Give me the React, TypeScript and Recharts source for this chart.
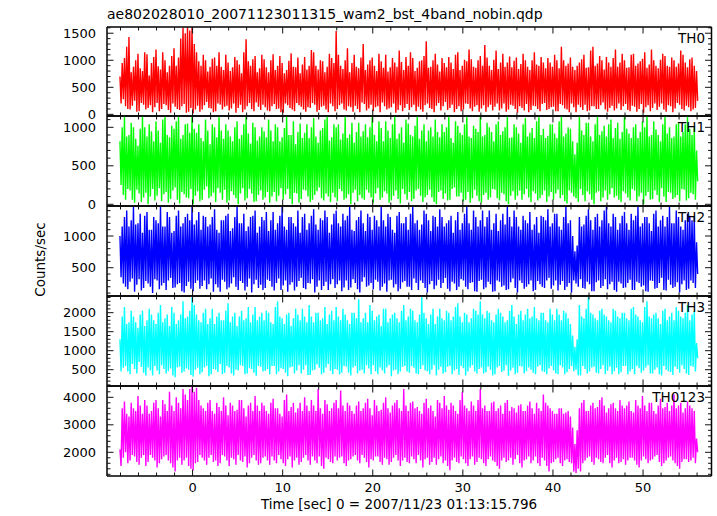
import React from 'react';
import { LineChart, Line, XAxis, YAxis } from 'recharts';

// ---- time bins (seconds since 2007/11/23 01:13:15.796), one upper and one lower excursion per bin ----
const T_START = -8;
const T_BIN = 0.25;
const X_DOMAIN: [number, number] = [-9.5, 57.6];
const X_MAJOR = 10;
const X_MINOR = 2;

// ---- TH0 ----
const th0Hi = [
  700,950,1040,1250,1430,780,880,1000,1120,850,800,1150,1110,720,950,1060,1200,890,830,1150,1000,780,900,1080,1220,900,1050,1400,1600,1500,1630,1550,
  1620,1300,1150,980,900,1100,1000,790,880,1030,1050,900,1150,880,820,1100,960,800,870,1060,1000,920,760,1150,1390,980,900,1020,1080,780,850,1100,
  1020,870,780,1000,1110,820,900,1080,950,760,820,990,1130,880,870,1050,760,920,1060,830,900,1190,1150,900,830,1000,980,780,880,1120,1040,950,
  1540,1100,900,840,1000,1220,780,950,1100,880,850,1050,1300,820,920,1000,1050,900,800,1120,980,860,1100,790,870,1040,960,880,1180,970,820,1060,
  900,1150,1040,800,860,980,1000,1080,1350,860,880,1000,1120,920,790,1040,950,870,1060,960,840,1100,1150,820,900,1010,980,1200,1020,880,860,1000,
  1080,900,1280,1050,900,820,1010,1180,840,960,1120,880,960,1070,870,990,1050,840,930,1120,1000,880,820,1000,1150,920,900,1060,960,850,1040,960,
  880,1100,1000,850,1250,1000,900,940,1050,880,820,900,960,1020,1100,860,870,1180,1250,900,940,1080,1000,830,1060,960,880,1040,1200,880,960,1120,
  1000,860,870,1100,1120,900,940,980,1030,1150,860,920,1200,1000,900,850,1010,1120,1080,900,880,1050,1000,880,940,1180,1100,960,870,1020,1050,900,
  800,
];
const th0Lo = [
  200,280,150,100,90,160,250,50,60,210,180,90,120,170,40,130,210,60,100,190,170,80,30,200,140,100,80,150,190,30,50,120,
  20,90,160,50,90,170,230,120,110,40,60,200,180,90,140,160,70,110,200,30,120,180,40,90,150,210,100,60,220,140,80,180,
  130,70,60,150,190,100,110,40,30,200,170,120,90,60,210,170,140,90,50,130,120,210,180,50,80,140,160,90,40,200,150,60,
  100,170,200,90,70,150,130,50,160,100,40,220,190,70,110,180,60,130,150,40,220,150,90,110,130,200,30,80,170,60,120,190,
  80,130,180,60,140,90,50,170,200,120,100,40,160,210,70,150,230,80,120,180,40,100,150,60,90,200,190,110,60,140,170,50,
  110,170,50,130,180,70,140,200,70,110,200,50,90,180,160,100,30,150,120,70,190,40,80,160,150,100,60,190,210,80,100,130,
  140,60,60,190,170,110,90,40,200,130,40,180,130,80,180,60,70,150,150,100,100,170,220,90,50,120,160,70,110,200,80,150,
  190,80,60,160,140,50,100,190,30,130,170,60,120,200,80,140,200,90,50,170,150,40,110,210,180,100,70,160,130,60,90,120,
  250,
];

// ---- TH1 ----
const th1Hi = [
  820,1000,1146,880,900,1060,1000,850,760,980,1146,1000,880,1040,950,820,1080,960,800,1100,1146,900,870,1020,980,1080,1146,850,900,1040,1050,930,
  1146,980,930,1040,860,820,1100,960,780,1040,1000,870,1146,960,850,1040,960,880,820,1000,1080,850,900,1040,1146,920,790,1060,1000,830,880,1000,
  950,870,1100,960,820,1040,1000,820,870,990,1146,900,900,1080,780,940,1050,860,930,1040,860,1000,1120,880,800,960,990,1100,1146,830,870,1040,
  1000,1040,840,920,1146,860,910,1060,800,940,1060,880,950,1040,870,1000,1146,900,820,1080,990,820,1080,960,860,1040,1146,850,920,1000,800,1100,
  1050,900,880,1020,1146,850,960,1040,820,960,1000,880,1100,940,870,1040,940,1000,1146,860,800,1080,1020,930,900,1040,1146,880,860,1020,980,940,
  1146,880,900,1060,1000,940,820,1040,1080,900,950,1000,1146,860,870,1040,1000,920,800,1040,1120,880,930,990,860,1080,1146,900,980,860,890,1040,
  1040,920,860,1080,1146,880,920,1000,980,820,650,800,1146,960,900,1060,1060,880,820,1040,1146,900,950,1020,880,1040,1100,860,990,1060,850,940,
  1146,980,920,860,1000,1040,860,940,1080,1000,1146,880,900,1080,970,900,820,1040,1146,920,1000,860,880,1040,1060,880,940,1040,1146,980,900,1000,
  700,
];
const th1Lo = [
  250,120,60,200,180,60,20,190,140,30,90,150,0,100,200,50,110,210,40,130,160,20,70,180,220,60,10,160,130,90,80,200,
  0,110,170,40,60,190,230,80,100,150,30,210,150,60,190,20,50,170,120,80,0,140,210,50,80,200,140,30,40,120,180,60,
  90,160,20,100,160,40,110,210,60,130,200,70,0,150,140,20,70,190,180,100,30,60,120,170,220,80,50,140,100,30,150,90,
  40,200,170,60,80,130,0,150,190,40,120,80,60,190,150,90,20,140,210,60,90,170,140,20,50,110,180,70,10,200,130,60,
  160,40,70,180,200,110,30,90,120,190,90,30,0,160,180,70,140,50,60,200,220,100,100,150,40,60,160,20,80,190,110,40,
  20,120,150,60,90,200,190,80,50,150,130,40,0,110,170,60,110,180,60,130,200,90,30,170,140,50,80,120,180,30,100,160,
  60,140,190,80,120,40,10,180,150,100,80,30,200,120,40,170,130,60,0,150,170,40,90,180,60,130,210,90,110,60,30,170,
  140,90,50,200,180,40,100,150,0,110,160,60,70,180,120,30,210,100,30,160,150,70,90,120,40,200,190,50,80,150,130,60,
  300,
];

// ---- TH2 ----
const th2Hi = [
  1000,1150,1300,1400,1150,1250,1462,1180,1200,1350,1050,1320,1380,1100,1100,1300,1250,1200,1462,1150,1150,1380,1300,1050,1080,1320,1400,1150,1200,1300,1350,1250,
  1462,1180,1250,1380,1100,1320,1300,1150,1180,1300,1420,1100,1050,1250,1250,1320,1350,1080,1120,1300,1462,1200,1200,1350,1080,1150,1300,1320,1400,1050,1150,1300,
  1250,1380,1080,1250,1380,1100,1200,1320,1462,1150,1100,1300,1300,1200,1150,1400,1050,1300,1350,1100,1200,1320,1420,1180,1100,1280,1250,1400,1300,1050,1180,1350,
  1400,1200,1150,1350,1250,1320,1462,1100,1080,1250,1300,1400,1200,1080,1350,1300,1100,1320,1250,1150,1462,1250,1150,1350,1300,1100,1050,1320,1380,1200,1200,1300,
  1100,1350,1462,1200,1250,1100,1180,1400,1350,1250,1080,1320,1300,1150,1420,1300,1150,1200,1250,1320,1050,1250,1380,1100,1200,1350,1462,1200,1100,1400,1300,1150,
  1250,1400,1150,1300,1400,1100,1200,1350,1080,1250,1350,1180,1462,1300,1150,1400,1300,1150,1100,1320,1250,1200,1380,1100,1180,1300,1050,1320,1300,1250,1420,1150,
  1200,1350,1350,1150,1100,1300,1462,1200,1250,1000,760,850,1300,1150,1180,1320,1420,1250,1100,1300,1350,1150,1250,1400,1462,1200,1150,1350,1300,1100,1200,1320,
  1380,1200,1100,1350,1250,1320,1462,1150,1200,1300,1300,1200,1080,1350,1400,1150,1250,1320,1150,1300,1462,1200,1200,1400,1300,1150,1100,1250,1350,1320,1250,1300,
  900,
];
const th2Lo = [
  350,250,200,160,280,330,120,230,320,140,180,290,250,200,100,320,300,160,220,260,150,300,340,180,190,240,260,130,110,210,280,170,
  130,260,300,170,210,300,160,240,330,120,240,190,120,310,280,160,190,250,350,200,150,290,260,140,200,330,110,240,310,180,230,150,
  180,310,290,200,140,260,330,150,220,300,120,230,270,140,200,290,340,180,160,260,250,320,110,200,300,150,210,280,150,240,320,180,
  240,300,130,190,300,150,190,320,260,160,110,280,350,200,220,260,160,310,280,140,200,250,120,300,310,190,240,130,170,270,290,200,
  200,150,330,260,150,300,260,180,110,240,290,160,220,310,180,260,340,170,130,280,250,150,200,320,300,200,160,260,270,130,120,290,
  310,160,190,280,240,120,130,300,280,200,220,150,160,270,330,180,110,300,260,170,200,240,300,130,150,290,240,200,180,300,340,170,
  220,300,140,230,290,150,200,260,110,300,250,200,320,180,170,280,240,130,130,270,300,180,210,320,160,240,280,150,120,280,250,180,
  190,260,310,150,150,280,260,200,220,130,120,300,290,170,180,260,340,150,140,310,230,180,200,270,110,240,300,150,170,300,260,180,
  400,
];

// ---- TH3 ----
const th3Hi = [
  1300,1900,2150,1700,1750,2050,1900,1750,1600,1950,2050,1650,1800,2100,1950,1800,1700,2000,2200,1750,1850,1950,1650,2150,2000,1700,1800,1950,2300,1850,1900,2050,
  2421,2200,1950,1800,1750,2000,2100,1700,1850,2100,1700,1900,2000,1800,1800,2050,2250,1750,1900,2000,1650,1900,2050,1800,1850,2150,1750,1950,2150,1800,1900,2000,
  1800,2050,2000,1750,1700,2150,2300,1900,1850,1700,1950,2000,1650,1850,2100,1950,1800,2100,1900,1750,2200,1900,1750,2000,2000,1800,1850,2150,1700,1950,2050,1800,
  2150,1900,1800,2100,1950,1800,1700,2000,2000,1850,2350,1750,1850,2000,1750,2200,2050,1800,1900,1950,1650,2100,2100,1750,1850,1950,2000,1850,1750,2050,2200,1800,
  1900,2100,2050,1800,1750,1950,2421,2000,1850,1700,1950,2100,1700,1900,2100,1850,1800,2050,2000,1800,1900,2150,2250,1900,1750,2000,1950,1750,1850,2100,2050,1950,
  2300,1950,1850,2050,2000,1800,1750,1950,2100,2000,1900,1750,1800,2050,2200,1900,1700,1950,2050,1800,1950,2100,1850,1900,2150,1850,1800,2000,2000,1800,1750,2100,
  1950,1800,2100,1950,1800,2050,2000,1850,1700,1400,1100,1300,2200,1900,1850,2100,2421,2000,1950,1850,1800,2050,2100,1950,1900,1800,1750,2100,2050,1900,1850,2000,
  2000,1850,1800,2100,2150,1950,1900,1800,1750,2150,2300,1900,1850,1950,2000,1850,1700,2050,2100,1800,1900,2000,1800,2150,2050,1900,1850,2000,2200,1800,1950,2050,
  1200,
];
const th3Lo = [
  450,550,600,450,380,650,520,400,700,580,420,350,560,480,350,600,480,380,620,520,400,460,530,350,300,560,580,420,450,530,500,360,
  320,500,550,380,430,560,600,330,380,520,500,440,650,380,420,600,560,400,350,500,480,620,600,380,400,540,520,420,340,600,580,450,
  470,520,380,600,600,380,450,540,520,420,330,560,580,400,480,620,400,500,620,360,360,480,500,640,550,380,420,560,650,470,380,520,
  500,380,420,600,580,420,350,560,600,400,470,500,400,620,530,380,620,460,380,560,480,400,560,620,330,480,500,380,450,580,600,450,
  420,600,550,400,380,520,620,480,460,380,500,620,350,500,580,400,430,580,600,380,480,520,370,600,540,350,450,560,620,450,400,520,
  560,400,430,580,500,350,380,560,600,440,470,620,340,480,550,380,420,600,580,400,460,560,500,420,380,580,620,460,440,380,530,600,
  480,400,380,620,560,380,430,520,600,460,500,350,350,600,520,400,450,560,580,420,400,520,620,380,470,580,380,460,550,380,430,600,
  600,380,450,520,380,600,540,420,480,560,620,400,400,500,560,380,350,600,500,460,440,360,580,520,420,620,520,400,360,600,580,450,
  800,
];

// ---- TH0123 ----
const th0123Hi = [
  2100,3600,3850,3400,3300,3800,3600,3500,4050,3700,3400,3900,3700,3400,3500,3800,3900,3600,3300,3900,3750,3500,4200,3700,3500,4000,3800,3600,4300,4100,3900,4300,
  4411,4200,4350,3900,3700,3600,3500,3800,3900,3500,3400,3800,3650,3500,4000,3700,3350,3800,3700,3500,3550,3900,3900,3600,3300,3700,3800,3500,4050,3700,3500,3800,
  3700,3500,3400,3800,3950,3600,3600,3400,3300,3900,4100,3500,3650,3800,3450,3600,3800,3500,4000,3700,3500,3900,3700,3500,4300,3600,3400,3900,3750,3500,3600,3800,
  3900,3600,4250,3700,3500,3800,3700,3500,3400,3700,3850,3500,3600,3800,3950,3600,3350,3900,3700,3500,3550,3800,4000,3600,3450,3700,3800,3900,3600,3500,4300,3700,
  3500,3800,3850,3600,3650,3500,3400,3800,3950,3600,3700,3500,3300,3900,3800,3600,4050,3700,3550,3800,3700,3500,3400,3900,4200,3700,3600,3500,3850,3700,3500,3900,
  4300,3600,3700,3500,3500,3800,3850,3500,3600,3700,3400,3800,3900,3500,3650,3600,3450,3700,3750,3500,3500,3700,3850,3600,3400,3800,3600,3500,4100,3800,3700,3600,
  3500,3400,3400,3600,3600,3400,3450,3500,3300,2900,2300,2800,3600,3800,3900,3500,3500,3700,3800,3600,3650,3900,4000,3700,3450,3600,3750,3800,3600,3500,3900,3700,
  3600,3700,3850,3500,3450,3900,3700,3600,4050,3700,3500,3800,3800,3500,3400,3700,3950,3600,3650,3800,3500,3700,4100,3600,3700,3800,3450,3600,3850,3700,3600,3500,
  2500,
];
const th0123Lo = [
  1500,1800,2000,1600,1700,1900,1850,1650,1550,1800,1900,1500,1650,1900,1800,1700,1450,1600,1750,1850,1900,1700,1600,1450,1300,1700,1800,1550,1700,1800,1500,1400,
  1350,1600,1650,1900,1800,1700,1550,1800,1900,1650,1700,1500,1600,1900,1850,1700,1500,1800,1750,1550,1900,1700,1650,1850,1450,1600,1800,1900,1700,1550,1600,1800,
  1850,1700,1550,1850,1700,1600,1900,1750,1600,1500,1750,1850,1450,1700,1800,1550,1650,1800,1900,1700,1550,1850,1700,1600,1850,1500,1400,1800,1750,1650,1600,1850,
  1700,1800,1850,1600,1500,1700,1750,1850,1900,1700,1600,1900,1800,1650,1450,1750,1700,1850,1850,1650,1550,1800,1750,1550,1650,1800,1900,1700,1500,1700,1800,1650,
  1600,1850,1750,1600,1900,1700,1450,1750,1800,1550,1650,1800,1550,1750,1850,1600,1700,1500,1350,1700,1800,1650,1600,1850,1750,1600,1500,1750,1850,1550,1650,1800,
  1750,1600,1500,1750,1850,1700,1650,1500,1400,1700,1800,1650,1700,1800,1550,1750,1900,1600,1450,1700,1750,1850,1600,1700,1850,1600,1500,1800,1700,1500,1300,1600,
  1650,1750,1800,1600,1500,1700,1750,1650,1600,1300,1250,1400,1300,1600,1700,1800,1850,1650,1550,1800,1750,1650,1600,1800,1900,1600,1450,1700,1800,1600,1650,1750,
  1550,1700,1800,1800,1700,1550,1450,1700,1850,1750,1600,1700,1750,1850,1900,1650,1500,1600,1700,1800,1850,1700,1600,1500,1400,1650,1750,1750,1650,1700,1800,1600,
  2000,
];

const TITLE = 'ae802028010_20071123011315_wam2_bst_4band_nobin.qdp';
const X_TITLE = 'Time [sec] 0 = 2007/11/23 01:13:15.796';
const Y_TITLE = 'Counts/sec';

const FONT = '"DejaVu Sans", sans-serif';
const PLOT_LEFT = 107;
const CHART_W = 717;
const RIGHT_MARGIN = 4.5; // plus 1px right axis => plot right edge at 711.5
const PAD = 3;

type Panel = {
  label: string;
  hi: number[];
  lo: number[];
  color: string;
  domain: [number, number];
  major: number;
  minor: number;
  top: number;
  height: number;
};

const panels: Panel[] = [
  { label: 'TH0', hi: th0Hi, lo: th0Lo, color: '#ff0000', domain: [-30, 1615], major: 500, minor: 100, top: 27, height: 89 },
  { label: 'TH1', hi: th1Hi, lo: th1Lo, color: '#00ff00', domain: [-22, 1147], major: 500, minor: 100, top: 116, height: 90 },
  { label: 'TH2', hi: th2Hi, lo: th2Lo, color: '#0000ff', domain: [54, 1473], major: 500, minor: 100, top: 206, height: 90 },
  { label: 'TH3', hi: th3Hi, lo: th3Lo, color: '#00ffff', domain: [71, 2439], major: 500, minor: 100, top: 296, height: 90 },
  { label: 'TH0123', hi: th0123Hi, lo: th0123Lo, color: '#ff00ff', domain: [1138, 4411], major: 1000, minor: 200, top: 386, height: 90 },
];

function buildSeries(hi: number[], lo: number[]) {
  const rows: { t: number; v: number }[] = [];
  for (let i = 0; i < hi.length; i++) {
    const t = T_START + i * T_BIN;
    rows.push({ t: t - T_BIN / 4, v: hi[i] });
    rows.push({ t: t + T_BIN / 4, v: lo[i] });
  }
  return rows;
}

function tickList(domain: [number, number], step: number) {
  const out: number[] = [];
  const start = Math.ceil(domain[0] / step) * step;
  for (let v = start; v <= domain[1] + 1e-9; v += step) out.push(Math.round(v * 1000) / 1000);
  return out;
}

function isMajor(v: number, major: number) {
  const r = v / major;
  return Math.abs(r - Math.round(r)) < 1e-6;
}

function makeTick(side: 'bottom' | 'top' | 'left' | 'right', major: number, showLabel: boolean) {
  return (props: any) => {
    const { x, y, payload } = props;
    const v = payload.value as number;
    const mj = isMajor(v, major);
    const len = mj ? 6.5 : 3.5;
    let x2 = x;
    let y2 = y;
    if (side === 'bottom') y2 = y - len;
    if (side === 'top') y2 = y + len;
    if (side === 'left') x2 = x + len;
    if (side === 'right') x2 = x - len;
    let label: React.ReactNode = null;
    if (showLabel && mj) {
      if (side === 'left')
        label = (
          <text x={x - 11} y={y} dy="0.36em" textAnchor="end" fontFamily={FONT} fontSize={13} fill="#000" stroke="none">
            {v}
          </text>
        );
      if (side === 'bottom')
        label = (
          <text x={x} y={y + 15.5} textAnchor="middle" fontFamily={FONT} fontSize={13} fill="#000" stroke="none">
            {v}
          </text>
        );
    }
    return (
      <g>
        <path d={`M${x},${y}L${x2},${y2}`} stroke="#111" strokeWidth={1} fill="none" />
        {label}
      </g>
    );
  };
}

const axisLineStyle = { stroke: '#000', strokeWidth: 1.5 };

function PanelChart({ p, last }: { p: Panel; last: boolean }) {
  const data = buildSeries(p.hi, p.lo);
  const xTicks = tickList(X_DOMAIN, X_MINOR);
  const yTicks = tickList(p.domain, p.minor);
  const bottomPad = last ? 40 : 10;
  return (
    <div style={{ position: 'absolute', left: 0, top: p.top - PAD - 1 }}>
      <LineChart
        width={CHART_W}
        height={p.height + PAD + 2 + bottomPad}
        data={data}
        margin={{ top: PAD, right: RIGHT_MARGIN, bottom: bottomPad, left: 0 }}
      >
        <XAxis
          xAxisId="b"
          dataKey="t"
          type="number"
          domain={X_DOMAIN}
          allowDataOverflow
          ticks={xTicks}
          interval={0}
          orientation="bottom"
          height={1}
          tickSize={0}
          tickMargin={0}
          tickLine={false}
          stroke="#000"
          axisLine={axisLineStyle}
          tick={makeTick('bottom', X_MAJOR, last)}
        />
        <XAxis
          xAxisId="t"
          dataKey="t"
          type="number"
          domain={X_DOMAIN}
          allowDataOverflow
          ticks={xTicks}
          interval={0}
          orientation="top"
          height={1}
          tickSize={0}
          tickMargin={0}
          tickLine={false}
          stroke="#000"
          axisLine={axisLineStyle}
          tick={makeTick('top', X_MAJOR, false)}
        />
        <YAxis
          yAxisId="l"
          type="number"
          domain={p.domain}
          allowDataOverflow
          ticks={yTicks}
          interval={0}
          orientation="left"
          width={PLOT_LEFT}
          tickSize={0}
          tickMargin={0}
          tickLine={false}
          stroke="#000"
          axisLine={axisLineStyle}
          tick={makeTick('left', p.major, true)}
        />
        <YAxis
          yAxisId="r"
          type="number"
          domain={p.domain}
          allowDataOverflow
          ticks={yTicks}
          interval={0}
          orientation="right"
          width={1}
          tickSize={0}
          tickMargin={0}
          tickLine={false}
          stroke="#000"
          axisLine={axisLineStyle}
          tick={makeTick('right', p.major, false)}
        />
        <Line
          xAxisId="b"
          yAxisId="l"
          dataKey="v"
          type="linear"
          stroke={p.color}
          strokeWidth={1.4}
          dot={false}
          activeDot={false}
          isAnimationActive={false}
        />
        <Line
          xAxisId="t"
          yAxisId="r"
          dataKey="v"
          type="linear"
          stroke="none"
          strokeWidth={0}
          dot={false}
          activeDot={false}
          isAnimationActive={false}
        />
      </LineChart>
    </div>
  );
}

export default function App() {
  return (
    <div style={{ position: 'absolute', left: 0, top: 0, width: 717, height: 516, background: '#fff', overflow: 'hidden' }}>
      {panels.map((p, i) => (
        <PanelChart key={p.label} p={p} last={i === panels.length - 1} />
      ))}
      <svg width={717} height={516} style={{ position: 'absolute', left: 0, top: 0, pointerEvents: 'none' }}>
        <text x={107} y={19} fontFamily={FONT} fontSize={14} fill="#000">
          {TITLE}
        </text>
        {panels.map((p) => (
          <text key={p.label} x={705} y={p.top + 16} textAnchor="end" fontFamily={FONT} fontSize={13.5} fill="#000">
            {p.label}
          </text>
        ))}
        <text x={261} y={509} fontFamily={FONT} fontSize={13.5} fill="#000">
          {X_TITLE}
        </text>
        <text x={45} y={259.5} transform="rotate(-90 45 259.5)" textAnchor="middle" fontFamily={FONT} fontSize={13.5} fill="#000">
          {Y_TITLE}
        </text>
      </svg>
    </div>
  );
}
